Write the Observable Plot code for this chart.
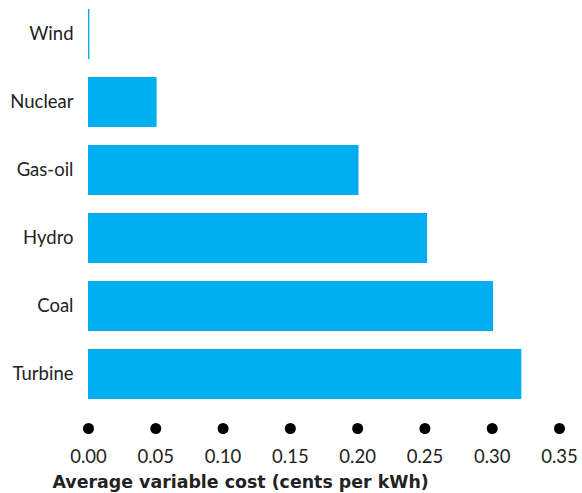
<!DOCTYPE html>
<html>
<head>
<meta charset="utf-8">
<script src="https://cdn.jsdelivr.net/npm/d3@7"></script>
<script src="https://cdn.jsdelivr.net/npm/@observablehq/plot@0.6"></script>
<style>
  html, body { margin: 0; padding: 0; background: #fff; }
  #chart svg { display: block; }
</style>
</head>
<body>
<div id="chart"></div>
<script>
const sources = ["Wind", "Nuclear", "Gas-oil", "Hydro", "Coal", "Turbine"];
const costs = [0.001, 0.051, 0.201, 0.252, 0.301, 0.322];
const xTicks = [0, 0.05, 0.10, 0.15, 0.20, 0.25, 0.30, 0.35];
const xLabel = "Average variable cost (cents per kWh)";

const data = sources.map((s, i) => ({source: s, cost: costs[i]}));

const chart = Plot.plot({
  width: 582,
  height: 493,
  marginTop: 8,
  marginBottom: 93,
  marginLeft: 88,
  marginRight: 23,
  style: {fontFamily: "Lato, sans-serif", fontSize: "18px", color: "#222", background: "#fff"},
  x: {domain: [0, 0.35]},
  y: {domain: sources, paddingInner: 0.27, paddingOuter: 0},
  marks: [
    Plot.barX(data, {x: "cost", y: "source", fill: "#00AEEF"}),
    Plot.axisY({tickSize: 0, tickPadding: 15, label: null, fontSize: 18.5}),
    Plot.axisX({ticks: xTicks, tickSize: 0, tickPadding: 49, tickFormat: d3.format(".2f"), label: null, fontSize: 18.5}),
    Plot.dot(xTicks, {x: d => d, frameAnchor: "bottom", dy: 28, r: 5.5, fill: "#000", stroke: "none"}),
    Plot.text([xLabel], {text: d => d, frameAnchor: "bottom-left", dx: -36, dy: 87, textAnchor: "start", fontWeight: "bold", fontSize: 17.4, fontFamily: "DejaVu Sans", fill: "#222"})
  ]
});
document.getElementById("chart").append(chart);
</script>
</body>
</html>
